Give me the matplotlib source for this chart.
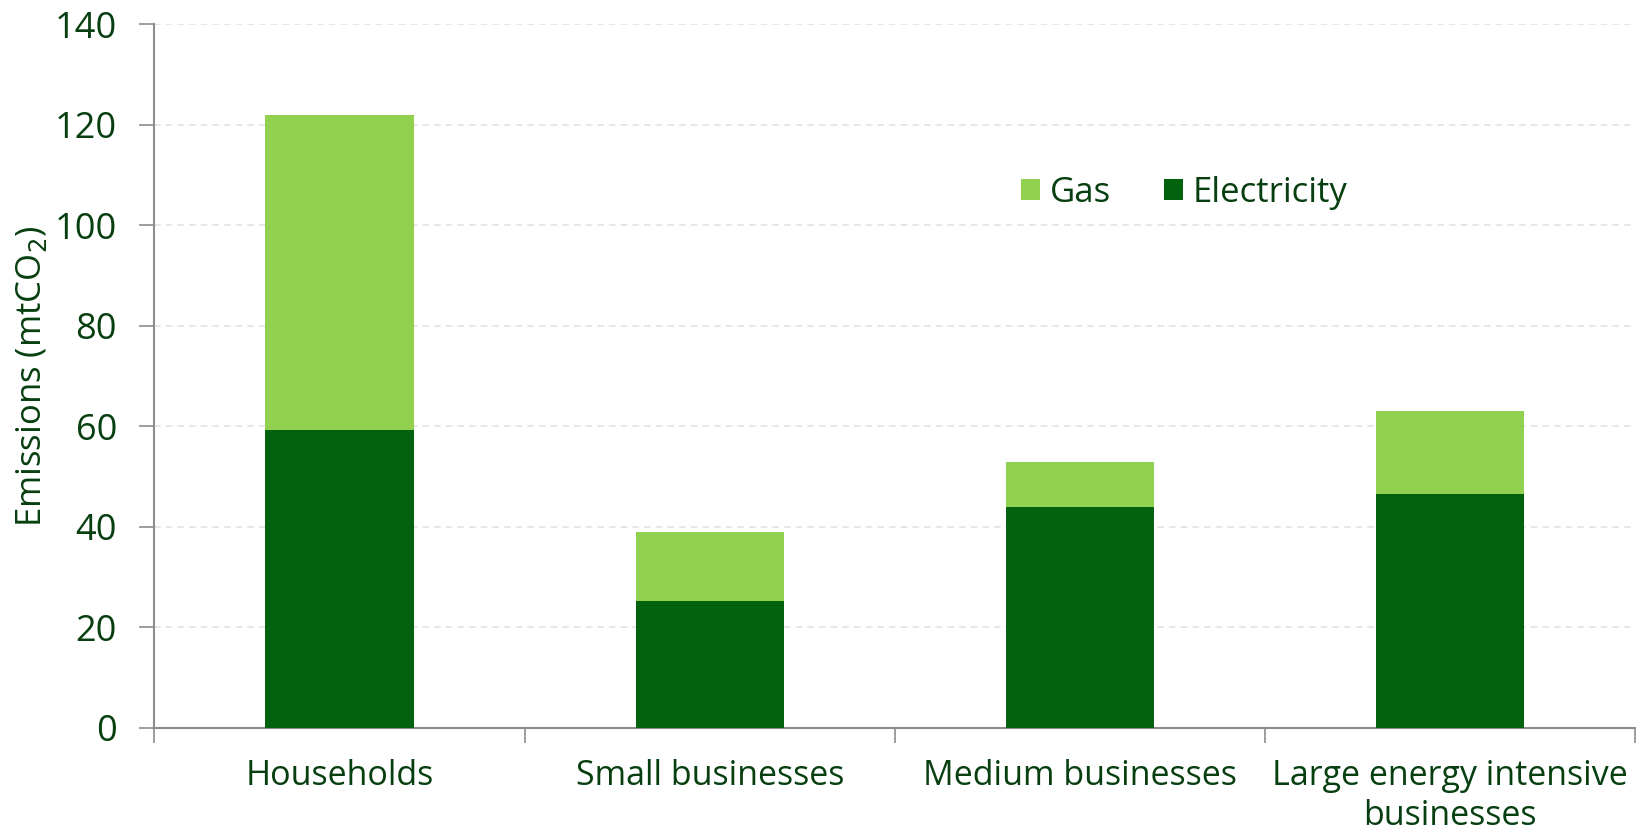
import matplotlib
matplotlib.use("Agg")
import matplotlib.pyplot as plt
import numpy as np

categories = ["Households", "Small businesses", "Medium businesses",
              "Large energy intensive\nbusinesses"]
electricity = [59.2, 25.2, 43.9, 46.5]
gas_total = [122.0, 39.0, 53.0, 63.0]
gas = [t - e for t, e in zip(gas_total, electricity)]
yticks = [0, 20, 40, 60, 80, 100, 120, 140]

TEXT = "#073f10"
GAS_C = "#92d050"
ELEC_C = "#02620e"
SPINE = "#8c8c8c"

plt.rcParams['font.family'] = ['Open Sans', 'DejaVu Sans']

fig = plt.figure(figsize=(16.48, 8.30), dpi=100)
ax = fig.add_axes([0.0937, 0.1229, 0.8987, 0.8481])

x = np.arange(len(categories))
ax.bar(x, electricity, width=0.4, color=ELEC_C, label="Electricity", zorder=3)
ax.bar(x, gas, width=0.4, bottom=electricity, color=GAS_C, label="Gas", zorder=3)

ax.set_xlim(-0.5, len(categories) - 0.5)
ax.set_ylim(0, 140)
ax.set_yticks(yticks)
ax.set_yticklabels([str(v) for v in yticks])

ax.set_xticks(x)
ax.set_xticklabels(categories, linespacing=1.25)
ax.set_xticks(np.arange(-0.5, len(categories), 1.0), minor=True)
ax.tick_params(axis='x', which='major', length=0, pad=22, labelsize=24.5, labelcolor=TEXT)
ax.tick_params(axis='x', which='minor', length=11, width=1.2, color=SPINE, direction='out')
ax.tick_params(axis='y', length=11, width=1.2, color=SPINE, pad=16, labelsize=26, labelcolor=TEXT)

for v in yticks[1:]:
    ax.axhline(v, color="#e3e3e3", lw=1.2, ls=(0, (4, 3)), zorder=1)

for s in ['top', 'right']:
    ax.spines[s].set_visible(False)
for s in ['left', 'bottom']:
    ax.spines[s].set_color(SPINE)
    ax.spines[s].set_linewidth(1.5)

ax.set_ylabel("Emissions (mtCO$_2$)", fontsize=25, color=TEXT, labelpad=4)

handles, labels = ax.get_legend_handles_labels()
leg = ax.legend(handles[::-1], labels[::-1], loc='center left',
                bbox_to_anchor=(0.585, 0.76), ncol=2, frameon=False,
                fontsize=25, handlelength=0.55, handleheight=0.55,
                handletextpad=0.3, columnspacing=1.5, borderpad=0, borderaxespad=0)
for t in leg.get_texts():
    t.set_color(TEXT)

fig.savefig("out.png", dpi=100, facecolor="white")
